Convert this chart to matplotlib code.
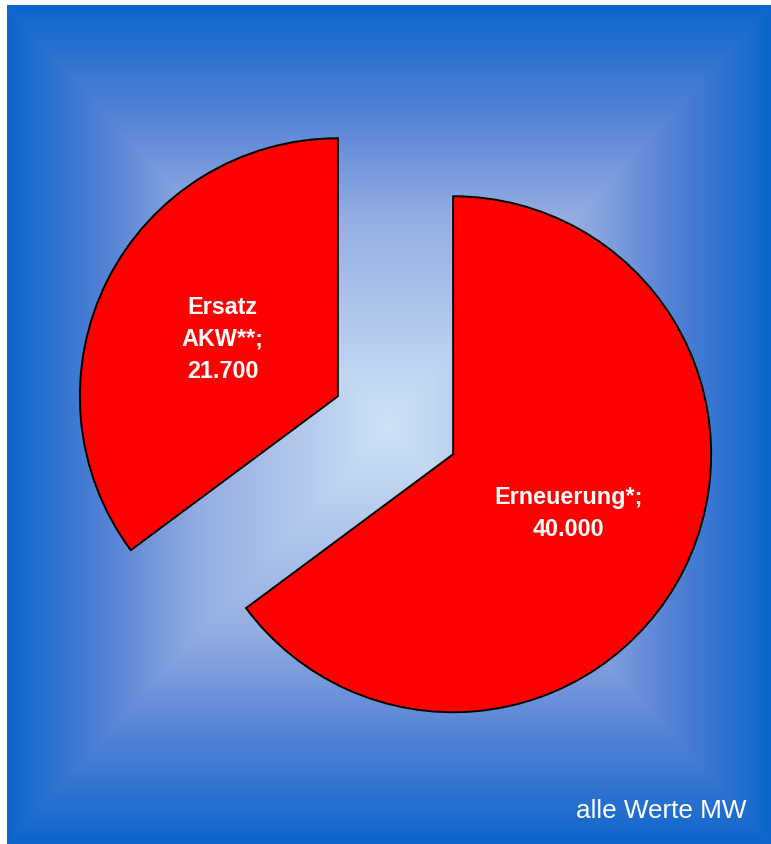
import numpy as np
import matplotlib
matplotlib.use("Agg")
import matplotlib.pyplot as plt

# Data
categories = ["Erneuerung*", "Ersatz\nAKW**"]
values = [40000, 21700]
note = "alle Werte MW"

W, H = 771, 845
RADIUS = 258
fig = plt.figure(figsize=(W / 100, H / 100), dpi=100)
fig.patch.set_facecolor("white")

ax = fig.add_axes([0, 0, 1, 1])

# Rectangular (pyramid) gradient background: light centre, blue edges
x0, x1 = 7, W
y0, y1 = 0, H - 6
nx, ny = x1 - x0, y1 - y0
xs = np.linspace(-1, 1, nx)
ys = np.linspace(-1, 1, ny)
X, Y = np.meshgrid(xs, ys)
T = np.maximum(np.abs(X), np.abs(Y))
stops = np.array([0.0, 0.5, 0.75, 1.0])
cols = np.array([
    [207, 226, 245],
    [148, 172, 226],
    [82, 128, 212],
    [12, 102, 204],
]) / 255
img = np.stack([np.interp(T, stops, cols[:, k]) for k in range(3)], axis=-1)
ax.imshow(img, extent=[x0, x1, y0, y1], origin="lower",
          interpolation="bilinear", aspect="auto", zorder=0)

# Pie labels "Name;\nValue" with German thousands separator
labels = [f"{name};\n{val:,}".replace(",", ".") for name, val in zip(categories, values)]

# both slices pulled out by a quarter of the radius
explode = [0.25 * RADIUS] * len(values)

wedges, texts = ax.pie(
    values,
    labels=labels,
    explode=explode,
    startangle=90,
    counterclock=False,
    center=(395.5, H - 426.25),
    radius=RADIUS,
    labeldistance=0.5,
    wedgeprops=dict(facecolor="#ff0000", edgecolor="black", linewidth=1.4),
    textprops=dict(color="white", fontsize=16.8, fontweight="bold",
                   family="Liberation Sans", linespacing=1.5),
    frame=True,
)
for t in texts:
    t.set_ha("center")
    t.set_va("center")
    t.set_multialignment("center")

ax.text(747, H - 818.3, note, ha="right", va="baseline", fontsize=18.8,
        color="white", family="Liberation Sans")

ax.set_xlim(0, W)
ax.set_ylim(0, H)
ax.set_aspect("auto")
ax.axis("off")

fig.savefig("out.png", dpi=100, facecolor="white")
